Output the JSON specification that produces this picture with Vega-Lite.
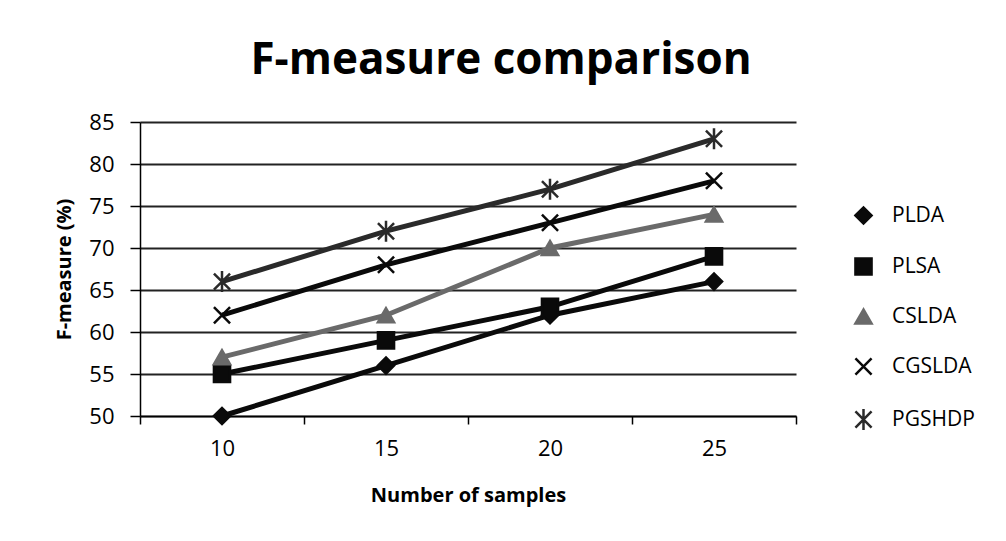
{
  "$schema": "https://vega.github.io/schema/vega-lite/v6.json",
  "autosize": "none",
  "width": 656,
  "height": 294,
  "padding": {"left": 140, "top": 122, "right": 210, "bottom": 125},
  "background": "white",
  "config": {
    "font": "Open Sans",
    "view": {"stroke": null}
  },
  "title": {
    "text": "F-measure comparison",
    "font": "Open Sans",
    "fontSize": 44,
    "fontWeight": "bold",
    "color": "#000000",
    "anchor": "middle",
    "dx": 33,
    "offset": 28
  },
  "data": {
    "values": [
      {"samples": "10", "method": "PLDA", "value": 50},
      {"samples": "15", "method": "PLDA", "value": 56},
      {"samples": "20", "method": "PLDA", "value": 62},
      {"samples": "25", "method": "PLDA", "value": 66},
      {"samples": "10", "method": "PLSA", "value": 55},
      {"samples": "15", "method": "PLSA", "value": 59},
      {"samples": "20", "method": "PLSA", "value": 63},
      {"samples": "25", "method": "PLSA", "value": 69},
      {"samples": "10", "method": "CSLDA", "value": 57},
      {"samples": "15", "method": "CSLDA", "value": 62},
      {"samples": "20", "method": "CSLDA", "value": 70},
      {"samples": "25", "method": "CSLDA", "value": 74},
      {"samples": "10", "method": "CGSLDA", "value": 62},
      {"samples": "15", "method": "CGSLDA", "value": 68},
      {"samples": "20", "method": "CGSLDA", "value": 73},
      {"samples": "25", "method": "CGSLDA", "value": 78},
      {"samples": "10", "method": "PGSHDP", "value": 66},
      {"samples": "15", "method": "PGSHDP", "value": 72},
      {"samples": "20", "method": "PGSHDP", "value": 77},
      {"samples": "25", "method": "PGSHDP", "value": 83}
    ]
  },
  "encoding": {
    "x": {
      "field": "samples",
      "type": "ordinal",
      "sort": ["10", "15", "20", "25"],
      "bandPosition": 0.5,
      "scale": {"type": "band", "paddingInner": 0, "paddingOuter": 0},
      "axis": {
        "title": "Number of samples",
        "titleFont": "Open Sans",
        "titleFontSize": 20,
        "titleFontWeight": "bold",
        "titleColor": "#000000",
        "titlePadding": 26,
        "labelFont": "Open Sans",
        "labelFontSize": 22,
        "labelColor": "#000000",
        "labelAngle": 0,
        "labelPadding": 14,
        "tickBand": "extent",
        "tickSize": 8,
        "tickColor": "#000000",
        "tickWidth": 1.5,
        "domainColor": "#000000",
        "domainWidth": 1.5,
        "grid": false
      }
    },
    "y": {
      "field": "value",
      "type": "quantitative",
      "scale": {"domain": [50, 85], "nice": false, "zero": false},
      "axis": {
        "title": "F-measure (%)",
        "titleFont": "Open Sans",
        "titleFontSize": 20,
        "titleFontWeight": "bold",
        "titleColor": "#000000",
        "titlePadding": 14,
        "values": [50, 55, 60, 65, 70, 75, 80, 85],
        "labelFont": "Open Sans",
        "labelFontSize": 22,
        "labelColor": "#000000",
        "labelPadding": 16,
        "tickSize": 10,
        "tickColor": "#000000",
        "tickWidth": 1.5,
        "domainColor": "#000000",
        "domainWidth": 1.5,
        "grid": true,
        "gridColor": "#222222",
        "gridWidth": 2
      }
    }
  },
  "layer": [
    {
      "mark": {"type": "line", "strokeWidth": 5},
      "encoding": {
        "color": {
          "field": "method",
          "type": "nominal",
          "sort": ["PLDA", "PLSA", "CSLDA", "CGSLDA", "PGSHDP"],
          "scale": {
            "domain": ["PLDA", "PLSA", "CSLDA", "CGSLDA", "PGSHDP"],
            "range": ["#0a0a0a", "#0a0a0a", "#6a6a6a", "#0a0a0a", "#2a2a2a"]
          },
          "legend": {
            "title": null,
            "orient": "none",
            "legendX": 713,
            "legendY": 83,
            "labelFont": "Open Sans",
            "labelFontSize": 21,
            "labelColor": "#000000",
            "symbolSize": 260,
            "symbolStrokeWidth": 2.5,
            "rowPadding": 24,
            "labelOffset": 18
          }
        }
      }
    },
    {
      "mark": {"type": "point", "filled": true, "opacity": 1, "strokeWidth": 2.5, "size": 260},
      "encoding": {
        "color": {
          "field": "method",
          "type": "nominal",
          "sort": ["PLDA", "PLSA", "CSLDA", "CGSLDA", "PGSHDP"],
          "scale": {
            "domain": ["PLDA", "PLSA", "CSLDA", "CGSLDA", "PGSHDP"],
            "range": ["#0a0a0a", "#0a0a0a", "#6a6a6a", "#0a0a0a", "#2a2a2a"]
          },
          "legend": {
            "title": null,
            "orient": "none",
            "legendX": 713,
            "legendY": 83,
            "labelFont": "Open Sans",
            "labelFontSize": 21,
            "labelColor": "#000000",
            "symbolSize": 260,
            "symbolStrokeWidth": 2.5,
            "rowPadding": 24,
            "labelOffset": 18
          }
        },
        "stroke": {
          "field": "method",
          "type": "nominal",
          "sort": ["PLDA", "PLSA", "CSLDA", "CGSLDA", "PGSHDP"],
          "scale": {
            "domain": ["PLDA", "PLSA", "CSLDA", "CGSLDA", "PGSHDP"],
            "range": ["#0a0a0a", "#0a0a0a", "#6a6a6a", "#0a0a0a", "#2a2a2a"]
          }
        },
        "shape": {
          "field": "method",
          "type": "nominal",
          "sort": ["PLDA", "PLSA", "CSLDA", "CGSLDA", "PGSHDP"],
          "scale": {
            "domain": ["PLDA", "PLSA", "CSLDA", "CGSLDA", "PGSHDP"],
            "range": [
              "diamond",
              "square",
              "triangle-up",
              "M-1,-1L1,1M-1,1L1,-1",
              "M-1,-1L1,1M-1,1L1,-1M0,-1.3L0,1.3"
            ]
          }
        }
      }
    }
  ]
}
